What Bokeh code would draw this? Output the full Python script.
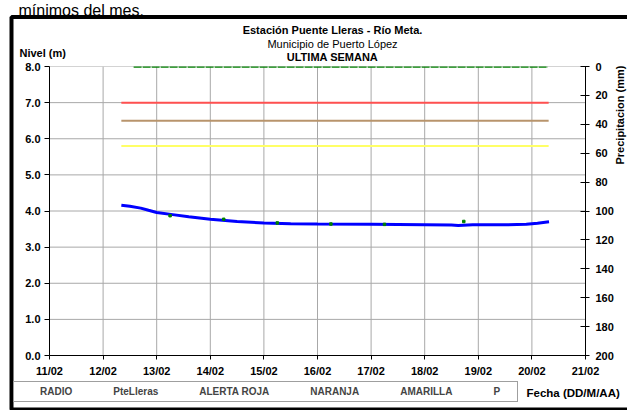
import math
import pandas as pd
from bokeh.plotting import figure
from bokeh.layouts import column
from bokeh.models import (Range1d, LinearAxis, DatetimeTickFormatter, FixedTicker,
                          Label, BoxAnnotation, Legend, LegendItem, NumeralTickFormatter)
from bokeh.embed import file_html
from bokeh.resources import INLINE

# ---------------- data ----------------
level_time = ["2010-02-12 08:10", "2010-02-12 12:00", "2010-02-12 16:50", "2010-02-12 20:20",
              "2010-02-13 00:00", "2010-02-13 07:10", "2010-02-13 14:20", "2010-02-14 00:00",
              "2010-02-14 12:00", "2010-02-15 00:00", "2010-02-15 12:00", "2010-02-16 00:00",
              "2010-02-17 00:00", "2010-02-18 00:00", "2010-02-18 12:00", "2010-02-18 15:00",
              "2010-02-18 21:30", "2010-02-19 12:00", "2010-02-19 21:30", "2010-02-20 02:30",
              "2010-02-20 07:40"]
level_m = [4.16, 4.13, 4.08, 4.02,
           3.96, 3.90, 3.84, 3.77,
           3.71, 3.67, 3.65, 3.64,
           3.63, 3.62, 3.61, 3.60,
           3.62, 3.62, 3.63, 3.66,
           3.70]

radio_time = ["2010-02-13 06:00", "2010-02-14 06:00", "2010-02-15 06:00",
              "2010-02-16 06:00", "2010-02-17 06:00", "2010-02-18 17:30"]
radio_m = [3.87, 3.77, 3.67, 3.64, 3.63, 3.71]

threshold_time = ["2010-02-12 08:10", "2010-02-20 07:30"]
alerta_roja = [7.0, 7.0]
naranja = [6.5, 6.5]
amarilla = [5.8, 5.8]

precip_time = ["2010-02-12 13:40", "2010-02-20 07:10"]
precip_mm = [0, 0]

x_ticks = ["2010-02-11", "2010-02-12", "2010-02-13", "2010-02-14", "2010-02-15", "2010-02-16",
           "2010-02-17", "2010-02-18", "2010-02-19", "2010-02-20", "2010-02-21"]
y_ticks = [0, 1, 2, 3, 4, 5, 6, 7, 8]
precip_ticks = [0, 20, 40, 60, 80, 100, 120, 140, 160, 180, 200]

legend_labels = ["RADIO", "PteLleras", "ALERTA ROJA", "NARANJA", "AMARILLA", "P"]

# ---------------- colours / fonts ----------------
W, H = 627, 410
FONT = "Liberation Sans"
C_RADIO = "#008000"
C_LEVEL = "#0000ff"
C_RED = "#ff5050"
C_NAR = "#b8946c"
C_AMA = "#ffff66"
C_P = "#008000"
C_GRID = "#a8a8a8"

xt = pd.to_datetime(x_ticks)
lt = pd.to_datetime(level_time)
rt = pd.to_datetime(radio_time)
tt = pd.to_datetime(threshold_time)
pt = pd.to_datetime(precip_time)

# ---------------- background figure: texts, legend and outer frame ----------------
o = figure(width=W, height=H, output_backend="svg", toolbar_location=None, tools="",
           x_range=Range1d(0, W), y_range=Range1d(0, H),
           x_axis_location=None, y_axis_location=None, title=None, min_border=0)
o.outline_line_color = None
o.background_fill_color = "white"
o.border_fill_color = "white"
o.renderers = [r for r in o.renderers if r.__class__.__name__ != "Grid"]
o.center = [r for r in o.center if r.__class__.__name__ != "Grid"]


def sy(y_page):
    return H - y_page


def lab(x, y, text, size="11px", style="bold", align="left", angle=0.0, baseline="middle"):
    o.add_layout(Label(x=x, y=sy(y), x_units="screen", y_units="screen", text=text,
                       text_font=FONT, text_font_size=size, text_font_style=style,
                       text_align=align, text_baseline=baseline, angle=angle,
                       text_color="black"))


lab(18, 10, "mínimos del mes.", size="16px", style="normal", baseline="alphabetic")
lab(332, 29, "Estación Puente Lleras - Río Meta.", align="center")
lab(332, 43, "Municipio de Puerto López", style="normal", align="center")
lab(332, 56, "ULTIMA SEMANA", align="center")
lab(19, 52, "Nivel (m)")
lab(526, 392, "Fecha (DD/M/AA)", size="11.5px")
lab(619, 65, "Precipitacion (mm)", align="right", angle=math.pi / 2)

proxies = [
    o.scatter([], [], marker="square", size=2.5, fill_color=C_RADIO, line_color=C_RADIO),
    o.line([], [], line_color=C_LEVEL, line_width=3),
    o.line([], [], line_color=C_RED, line_width=2),
    o.line([], [], line_color=C_NAR, line_width=2),
    o.line([], [], line_color=C_AMA, line_width=2),
    o.scatter([], [], marker="square", size=2.5, fill_color=C_P, line_color=C_P),
]
legend = Legend(items=[LegendItem(label=t, renderers=[r]) for t, r in zip(legend_labels, proxies)],
                orientation="horizontal", location=(13, sy(402)))
legend.label_text_font = FONT
legend.label_text_font_style = "bold"
legend.label_text_font_size = "10px"
legend.glyph_width = 20
legend.glyph_height = 10
legend.label_height = 10
legend.label_standoff = 2
legend.spacing = 19
legend.padding = 4
legend.margin = 0
legend.border_line_color = "#404040"
legend.border_line_width = 1
legend.background_fill_color = "white"
o.add_layout(legend, "center")

o.add_layout(BoxAnnotation(left=11, right=700, top=sy(16.5), bottom=sy(409),
                           left_units="screen", right_units="screen",
                           top_units="screen", bottom_units="screen",
                           fill_alpha=0, line_color="black", line_alpha=1, line_width=4))

# ---------------- chart figure (on top, transparent) ----------------
p = figure(width=W, height=H, output_backend="svg", toolbar_location=None, tools="",
           x_axis_type="datetime", title=None,
           x_range=Range1d(xt[0], xt[-1]),
           y_range=Range1d(y_ticks[0], y_ticks[-1]),
           min_border_left=49, min_border_right=42, min_border_top=66, min_border_bottom=55,
           styles={"margin-top": f"-{H}px"})
p.outline_line_color = None
p.background_fill_color = None
p.border_fill_color = None
p.extra_y_ranges = {"precip": Range1d(start=precip_ticks[-1], end=precip_ticks[0])}

xa = p.xaxis[0]
xa.ticker = FixedTicker(ticks=[t.value // 10**6 for t in xt])
xa.formatter = DatetimeTickFormatter(days="%d/%m", months="%d/%m", hours="%d/%m",
                                     milliseconds="%d/%m", seconds="%d/%m", minutes="%d/%m",
                                     minsec="%d/%m", hourmin="%d/%m", years="%d/%m")
ya = p.yaxis[0]
ya.ticker = FixedTicker(ticks=y_ticks)
ya.formatter = NumeralTickFormatter(format="0.0")
ra = LinearAxis(y_range_name="precip", ticker=FixedTicker(ticks=precip_ticks))
p.add_layout(ra, "right")

for ax in (xa, ya, ra):
    ax.axis_line_color = "black"
    ax.axis_line_width = 1
    ax.major_tick_line_color = "black"
    ax.minor_tick_line_color = None
    ax.major_label_text_font = FONT
    ax.major_label_text_font_style = "bold"
    ax.major_label_text_font_size = "11px"
    ax.major_label_text_color = "black"
xa.major_tick_in, xa.major_tick_out = 0, 4
ya.major_tick_in, ya.major_tick_out = 0, 5
ra.major_tick_in, ra.major_tick_out = 5, 4
xa.major_label_standoff = 5
ya.major_label_standoff = 4
ra.major_label_standoff = 6

p.xgrid.visible = False
p.ygrid.visible = False

p.segment(x0=xt, y0=[y_ticks[0]] * len(xt), x1=xt, y1=[y_ticks[-1]] * len(xt),
          line_color=C_GRID, line_width=1)
p.segment(x0=[xt[0]] * len(y_ticks), y0=y_ticks, x1=[xt[-1]] * len(y_ticks), y1=y_ticks,
          line_color=C_GRID, line_width=1)

p.line(tt, alerta_roja, line_color=C_RED, line_width=2)
p.line(tt, naranja, line_color=C_NAR, line_width=2)
p.line(tt, amarilla, line_color=C_AMA, line_width=2)
p.line(pt, precip_mm, y_range_name="precip", line_color=C_P, line_width=2.5, line_dash="8 1")
p.line(lt, level_m, line_color=C_LEVEL, line_width=3)
p.scatter(rt, radio_m, marker="square", size=2.5, fill_color=C_RADIO, line_color=C_RADIO)

for fig in (o, p):
    if "frame_align" in fig.properties():
        fig.frame_align = False

layout = column(o, p)
open("out.html", "w").write(file_html(layout, INLINE))
